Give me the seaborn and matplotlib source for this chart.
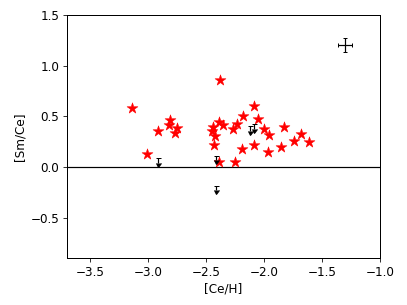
import matplotlib
matplotlib.use("Agg")
import matplotlib.pyplot as plt
import seaborn as sns
import pandas as pd

# detections
ce_h = [-3.14, -3.01, -2.91, -2.81, -2.82, -2.75, -2.77,
        -2.45, -2.44, -2.39, -2.35, -2.42, -2.43, -2.38, -2.385,
        -2.25, -2.27, -2.23, -2.18, -2.19, -2.09, -2.055, -2.09,
        -2.00, -1.96, -1.97, -1.83, -1.85, -1.74, -1.68, -1.61]
sm_ce = [0.58, 0.13, 0.35, 0.46, 0.41, 0.38, 0.33,
         0.35, 0.39, 0.44, 0.41, 0.30, 0.22, 0.86, 0.05,
         0.05, 0.37, 0.42, 0.50, 0.18, 0.60, 0.47, 0.22,
         0.37, 0.31, 0.145, 0.39, 0.20, 0.26, 0.32, 0.25]

# upper limits
lim_ce_h = [-2.91, -2.41, -2.41, -2.12, -2.085]
lim_sm_ce = [0.085, 0.11, -0.185, 0.40, 0.42]
lim_len = 0.045

# typical error
err_x, err_y = -1.30, 1.20
err_dx, err_dy = 0.06, 0.07

df = pd.DataFrame({'CeH': ce_h, 'SmCe': sm_ce})

plt.rcParams['font.size'] = 12
plt.rcParams['axes.linewidth'] = 1.0
plt.rcParams['xtick.major.size'] = 4.2
plt.rcParams['ytick.major.size'] = 4.2

fig = plt.figure(figsize=(407 / 72, 305 / 72), dpi=72)
ax = fig.add_axes([0.164, 0.154, 0.770, 0.797])

sns.scatterplot(data=df, x='CeH', y='SmCe', marker='*', s=130, color='red',
                edgecolor='red', linewidth=0.5, ax=ax, zorder=3)
ax.errorbar(lim_ce_h, lim_sm_ce, yerr=lim_len, uplims=True, fmt='none',
            color='black', ecolor='black', mfc='black', mec='black',
            capsize=2.5, elinewidth=1.2, zorder=4)
ax.errorbar([err_x], [err_y], xerr=[err_dx], yerr=[err_dy], fmt='none',
            color='black', ecolor='black', capsize=2.2, elinewidth=1.2)
ax.axhline(0, color='black', linewidth=1.2)

ax.set_xlim(-3.7, -1.0)
ax.set_ylim(-0.9, 1.5)
ax.set_xticks([-3.5, -3.0, -2.5, -2.0, -1.5, -1.0])
ax.set_yticks([-0.5, 0.0, 0.5, 1.0, 1.5])
ax.set_xlabel('[Ce/H]')
ax.set_ylabel('[Sm/Ce]')

fig.savefig('out.png', dpi=72)
